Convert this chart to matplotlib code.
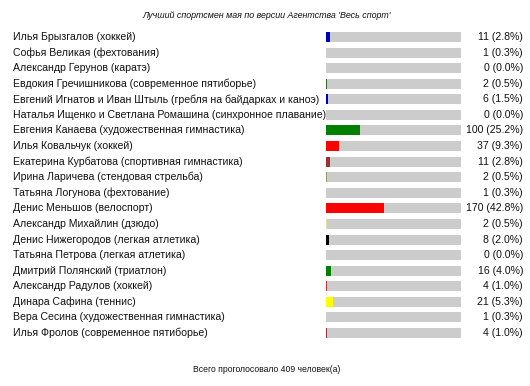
import matplotlib
matplotlib.use("Agg")
import matplotlib.pyplot as plt
import matplotlib.transforms as mtransforms

names = [
    "Илья Брызгалов (хоккей)",
    "Софья Великая (фехтования)",
    "Александр Герунов (каратэ)",
    "Евдокия Гречишникова (современное пятиборье)",
    "Евгений Игнатов и Иван Штыль (гребля на байдарках и каноэ)",
    "Наталья Ищенко и Светлана Ромашина (синхронное плавание)",
    "Евгения Канаева (художественная гимнастика)",
    "Илья Ковальчук (хоккей)",
    "Екатерина Курбатова (спортивная гимнастика)",
    "Ирина Ларичева (стендовая стрельба)",
    "Татьяна Логунова (фехтование)",
    "Денис Меньшов (велоспорт)",
    "Александр Михайлин (дзюдо)",
    "Денис Нижегородов (легкая атлетика)",
    "Татьяна Петрова (легкая атлетика)",
    "Дмитрий Полянский (триатлон)",
    "Александр Радулов (хоккей)",
    "Динара Сафина (теннис)",
    "Вера Сесина (художественная гимнастика)",
    "Илья Фролов (современное пятиборье)",
]
votes = [11, 1, 0, 2, 6, 0, 100, 37, 11, 2, 1, 170, 2, 8, 0, 16, 4, 21, 1, 4]
percents = [2.8, 0.3, 0.0, 0.5, 1.5, 0.0, 25.2, 9.3, 2.8, 0.5, 0.3, 42.8, 0.5, 2.0, 0.0, 4.0, 1.0, 5.3, 0.3, 1.0]
colors = ["#0000c0", "#808080", "#808080", "#336633", "#0000c0", "#808080", "#008000",
          "#ff0000", "#993333", "#999966", "#808080", "#ff0000", "#e6e0a0", "#000000",
          "#808080", "#008000", "#cc3333", "#ffff00", "#808080", "#993333"]
title = "Лучший спортсмен мая по версии Агентства 'Весь спорт'"
footer = "Всего проголосовало 409 человек(а)"

W, H = 530, 386
fig = plt.figure(figsize=(W / 100, H / 100), dpi=100)
fig.patch.set_facecolor("white")
plt.rcParams["font.family"] = ["Liberation Sans", "DejaVu Sans"]

n = len(names)
row0, rowN = 37, 333
sp = (rowN - row0) / (n - 1)
top = row0 - sp / 2
bot = rowN + sp / 2
x0, x1 = 326, 461
ax = fig.add_axes([x0 / W, 1 - bot / H, (x1 - x0) / W, (bot - top) / H])
ax.set_xlim(0, 100)
ax.set_ylim(n - 0.5, -0.5)
ax.axis("off")

ys = list(range(n))
bh = 10 / sp
ax.barh(ys, [100] * n, height=bh, color="#cccccc", left=0)
ax.barh(ys, percents, height=bh, color=colors, left=0)

trans = mtransforms.blended_transform_factory(fig.transFigure, ax.transData)
for i in range(n):
    fig.text(13 / W, i, names[i], transform=trans, ha="left", va="center",
             fontsize=7.6, color="#111111")
    fig.text(523 / W, i, f"{votes[i]} ({percents[i]:.1f}%)", transform=trans,
             ha="right", va="center", fontsize=7.6, color="#111111")

fig.text(267 / W, 1 - 15 / H, title, ha="center", va="center", fontsize=6.4,
         style="italic", color="#111111")
fig.text(267 / W, 1 - 370 / H, footer, ha="center", va="center", fontsize=6.2,
         color="#111111")

fig.savefig("out.png", dpi=100, facecolor="white")
